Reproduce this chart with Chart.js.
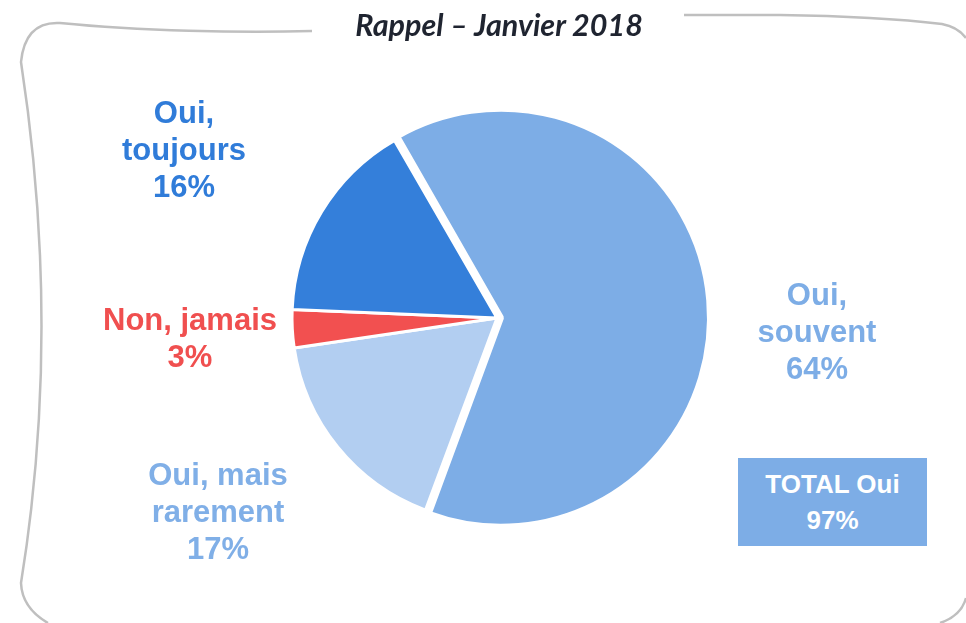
<!DOCTYPE html>
<html>
<head>
<meta charset="utf-8">
<script src="https://cdn.jsdelivr.net/npm/chart.js@4/dist/chart.umd.min.js"></script>
<style>
  html, body { margin: 0; padding: 0; background: #fff; }
  #wrap { position: relative; width: 966px; height: 623px; overflow: hidden; }
  #cadre { position: absolute; left: 0; top: 0; }
  #graph { position: absolute; left: 0; top: 0; }
  .titre {
    position: absolute; left: 299px; top: 8px; width: 400px; text-align: center;
    font-family: "Lato", sans-serif; font-weight: bold; font-style: italic;
    font-size: 30.5px; line-height: 32px; color: #1f2430;
  }
  .etiquette {
    position: absolute; width: 260px; text-align: center;
    font-family: "Liberation Sans", Arial, sans-serif; font-weight: bold;
    font-size: 31px; line-height: 37px;
  }
  .total {
    position: absolute; left: 738px; top: 458px; width: 189px; height: 88px;
    background: #7dade6; color: #fff; text-align: center;
    font-family: "Liberation Sans", Arial, sans-serif; font-weight: bold;
    font-size: 26px; line-height: 36px;
  }
  .total div { position: relative; top: 8px; }
</style>
</head>
<body>
<div id="wrap">
  <svg id="cadre" width="966" height="623">
    <path d="M 312 31 C 240 33, 140 31, 60 23 Q 25 21, 21 62 Q 62 330, 21 583 Q 22 608, 48 623"
          fill="none" stroke="#bfbfbf" stroke-width="2.5"/>
    <path d="M 684 15 L 780 15 C 850 16, 900 19, 942 24 Q 958 27, 966 38"
          fill="none" stroke="#bfbfbf" stroke-width="2.5"/>
    <path d="M 966 598 Q 961 616, 940 623" fill="none" stroke="#bfbfbf" stroke-width="2.5"/>
  </svg>
  <canvas id="graph" width="966" height="623"></canvas>
  <div class="titre">Rappel – Janvier 2018</div>
</div>

<script>
// données du graphique
const categories = [['Oui,', 'souvent'], ['Oui, mais', 'rarement'], ['Non, jamais'], ['Oui,', 'toujours']];
const valeurs = [64, 17, 3, 16];
const couleurs = ['#7dade6', '#b2cef1', '#f25050', '#347fda'];
const couleursTexte = ['#7dade6', '#80afe7', '#f04f4f', '#307cd9'];
const estOui = [true, true, false, true];

// position des étiquettes (coin haut-gauche de chaque bloc)
const positions = [[687, 276], [88, 456], [60, 301], [54, 94]];

const wrap = document.getElementById('wrap');

categories.forEach(function (lignes, i) {
    const div = document.createElement('div');
    div.className = 'etiquette';
    div.style.left = positions[i][0] + 'px';
    div.style.top = positions[i][1] + 'px';
    div.style.color = couleursTexte[i];
    div.innerHTML = lignes.concat([valeurs[i] + '%']).join('<br>');
    wrap.appendChild(div);
});

// total des "Oui"
const totalOui = valeurs.reduce(function (acc, v, i) {
    return estOui[i] ? acc + v : acc;
}, 0);
const boite = document.createElement('div');
boite.className = 'total';
boite.innerHTML = '<div>TOTAL Oui<br>' + totalOui + '%</div>';
wrap.appendChild(boite);

const canvas = document.getElementById('graph');
const chart = new Chart(canvas, {
    type: 'pie',
    data: {
        labels: categories.map(function (l) { return l.join(' '); }),
        datasets: [{
            data: valeurs,
            backgroundColor: couleurs,
            borderColor: '#ffffff',
            // grande part un peu détachée
            borderWidth: [6, 3, 3, 3],
            offset: [16, 0, 0, 0]
        }]
    },
    options: {
        responsive: false,
        animation: false,
        rotation: -30,
        radius: 205,
        layout: {
            padding: { left: 28, top: 13, right: 0, bottom: 0 }
        },
        plugins: {
            legend: { display: false },
            tooltip: { enabled: false },
            title: { display: false }
        }
    }
});
</script>
</body>
</html>
